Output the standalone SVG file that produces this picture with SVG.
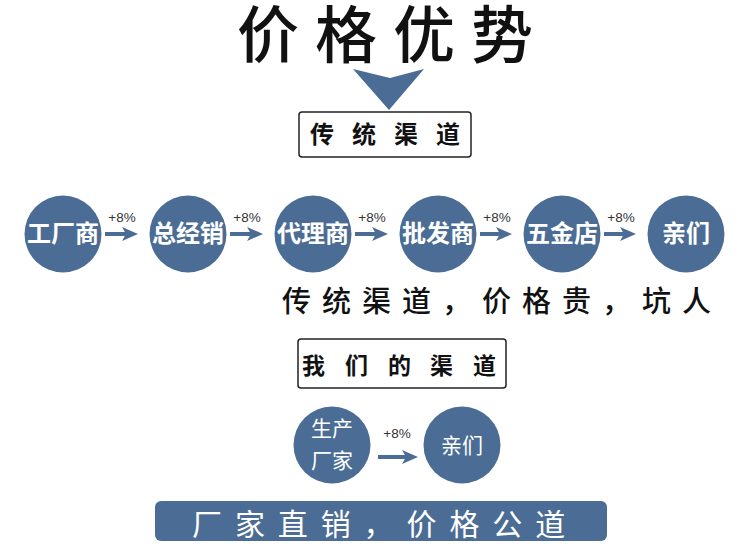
<svg xmlns="http://www.w3.org/2000/svg" width="750" height="559" viewBox="0 0 750 559">
<style>
.cjk{font-family:"Noto Sans CJK SC","Noto Sans",sans-serif}
.node circle{fill:#4b6d95}
.nt{font-family:"Noto Sans CJK SC",sans-serif;fill:#fff;font-size:24px;font-weight:700;text-anchor:middle}
.nt2{font-family:"Noto Sans CJK SC",sans-serif;fill:#fff;font-size:21px;text-anchor:middle}
.lbl{font-family:"Liberation Sans",Arial,sans-serif;font-size:13.5px;fill:#333;text-anchor:middle}
.conn line{stroke:#4b6d95;stroke-width:4;marker-end:url(#ah)}
.box{fill:#fff;stroke:#222;stroke-width:1.5}
</style>
<defs>
<marker id="ah" markerUnits="userSpaceOnUse" viewBox="0 0 16 14" markerWidth="16" markerHeight="14" refX="8" refY="7" orient="auto">
<path d="M0,0 L16,7 L0,14 L4,7 z" fill="#4b6d95"/>
</marker>
</defs>
<rect width="750" height="559" fill="#fff"/>
<g id="title">
<text class="cjk" x="237 315 393 471" y="58" font-size="62" font-weight="500" fill="#111">价格优势</text>
<polygon points="353,69 390,78 424,69 389,110" fill="#4b6d95"/>
</g>
<g id="box-traditional">
<rect class="box" x="299" y="112" width="172" height="45" rx="3"/>
<text class="cjk" x="310 352 394 436" y="143" font-size="24" font-weight="700" fill="#111">传统渠道</text>
</g>
<g id="n1" class="node"><circle cx="63" cy="234" r="38.5"/><text class="nt" x="63" y="242">工厂商</text></g>
<g id="n2" class="node"><circle cx="188" cy="234" r="38.5"/><text class="nt" x="188" y="242">总经销</text></g>
<g id="n3" class="node"><circle cx="313" cy="234" r="38.5"/><text class="nt" x="313" y="242">代理商</text></g>
<g id="n4" class="node"><circle cx="438" cy="234" r="38.5"/><text class="nt" x="438" y="242">批发商</text></g>
<g id="n5" class="node"><circle cx="562" cy="234" r="38.5"/><text class="nt" x="562" y="242">五金店</text></g>
<g id="n6" class="node"><circle cx="686" cy="234" r="38.5"/><text class="nt" x="686" y="242">亲们</text></g>
<g id="connectors" class="conn">
<line x1="105" y1="234" x2="130" y2="234"/>
<line x1="230" y1="234" x2="255" y2="234"/>
<line x1="355" y1="234" x2="380" y2="234"/>
<line x1="480" y1="234" x2="504" y2="234"/>
<line x1="604" y1="234" x2="628" y2="234"/>
<line x1="378" y1="457" x2="410" y2="457"/>
</g>
<g id="labels">
<text class="lbl" x="122" y="222">+8%</text>
<text class="lbl" x="247" y="222">+8%</text>
<text class="lbl" x="372" y="222">+8%</text>
<text class="lbl" x="497" y="222">+8%</text>
<text class="lbl" x="621" y="222">+8%</text>
<text class="lbl" x="397" y="438">+8%</text>
</g>
<g id="caption">
<text class="cjk" x="282" y="312" font-size="29" font-weight="500" letter-spacing="11" fill="#111">传统渠道，价格贵，坑人</text>
</g>
<g id="box-ours">
<rect class="box" x="298" y="339" width="208" height="49" rx="3"/>
<text class="cjk" x="302 345 388 430 473" y="374" font-size="23" font-weight="700" fill="#111">我们的渠道</text>
</g>
<g id="m1" class="node"><circle cx="332" cy="445" r="38.5"/><text class="nt2" x="332" y="436">生产</text><text class="nt2" x="332" y="468">厂家</text></g>
<g id="m2" class="node"><circle cx="462" cy="445" r="38.5"/><text class="nt2" x="462" y="453">亲们</text></g>
<g id="banner">
<rect x="155" y="501" width="452" height="40" rx="6" fill="#4b6d95"/>
<text class="cjk" x="192" y="535" font-size="30" letter-spacing="12.9" fill="#fff">厂家直销，价格公道</text>
</g>
</svg>
